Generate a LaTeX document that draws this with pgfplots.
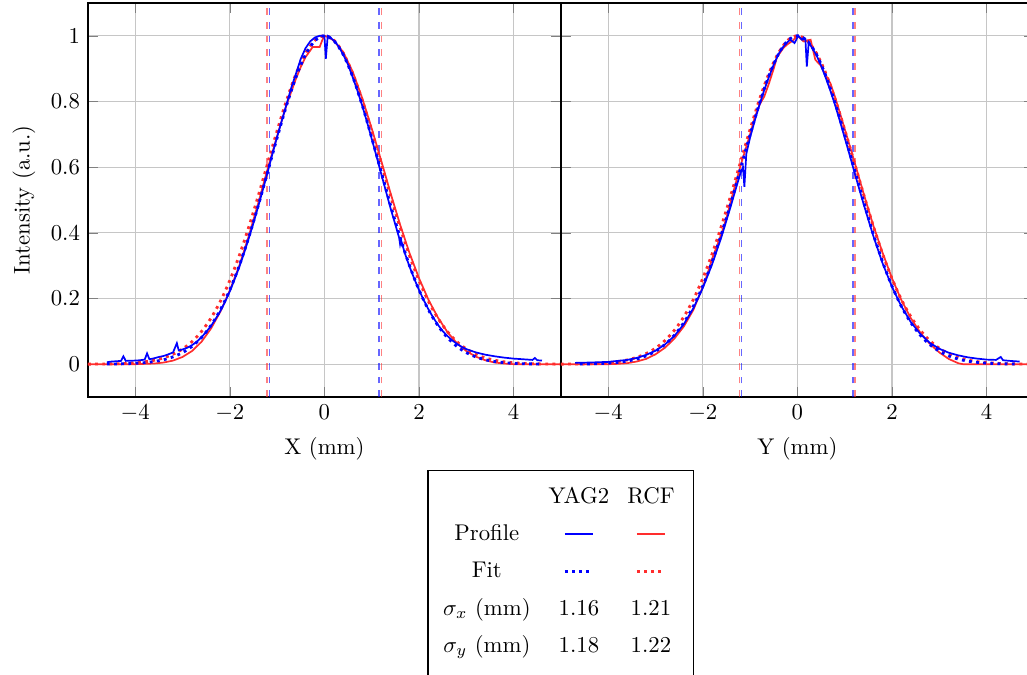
\documentclass[border=0pt]{standalone}
\usepackage{pgfplots}
\pgfplotsset{compat=1.18}
\usepackage{pgfplotstable}
\definecolor{myred}{RGB}{255,45,45}
\definecolor{myblue}{RGB}{0,0,255}

% ---------- data ----------
\pgfplotstableread{
x y
-4.6 0.006
-4.5 0.008
-4.4 0.009
-4.3 0.010
-4.25 0.024
-4.2 0.010
-4.0 0.011
-3.9 0.012
-3.8 0.014
-3.75 0.033
-3.7 0.015
-3.6 0.018
-3.5 0.022
-3.4 0.025
-3.3 0.030
-3.2 0.036
-3.12 0.064
-3.08 0.042
-3.0 0.045
-2.9 0.050
-2.8 0.058
-2.7 0.068
-2.6 0.082
-2.5 0.098
-2.4 0.116
-2.3 0.138
-2.2 0.162
-2.1 0.190
-2.0 0.222
-1.9 0.258
-1.8 0.296
-1.7 0.338
-1.6 0.383
-1.5 0.430
-1.4 0.480
-1.3 0.532
-1.2 0.585
-1.1 0.640
-1.0 0.692
-0.9 0.742
-0.8 0.792
-0.7 0.842
-0.6 0.885
-0.5 0.930
-0.4 0.962
-0.3 0.983
-0.2 0.995
-0.1 1.000
0.0 1.000
0.03 0.930
0.07 1.000
0.1 0.998
0.2 0.985
0.3 0.968
0.4 0.942
0.5 0.912
0.6 0.873
0.7 0.832
0.8 0.787
0.9 0.738
1.0 0.686
1.1 0.634
1.2 0.580
1.3 0.527
1.4 0.474
1.5 0.425
1.58 0.385
1.6 0.365
1.62 0.378
1.7 0.338
1.8 0.297
1.9 0.260
2.0 0.226
2.1 0.195
2.2 0.167
2.3 0.142
2.4 0.120
2.5 0.101
2.6 0.086
2.7 0.073
2.8 0.062
2.9 0.053
3.0 0.046
3.2 0.036
3.4 0.029
3.6 0.024
3.8 0.020
4.0 0.017
4.2 0.015
4.4 0.013
4.45 0.019
4.5 0.012
4.6 0.011
}\bxprof

\pgfplotstableread{
x y
-5.0 0.000
-4.0 0.000
-3.8 0.001
-3.6 0.002
-3.4 0.005
-3.2 0.011
-3.0 0.022
-2.8 0.040
-2.6 0.068
-2.4 0.108
-2.2 0.160
-2.0 0.225
-1.8 0.300
-1.6 0.390
-1.4 0.490
-1.2 0.595
-1.0 0.695
-0.8 0.790
-0.6 0.870
-0.5 0.905
-0.4 0.935
-0.3 0.955
-0.25 0.966
-0.1 0.966
-0.05 0.985
0.0 1.000
0.1 0.995
0.2 0.985
0.4 0.950
0.6 0.890
0.8 0.810
1.0 0.718
1.2 0.620
1.4 0.520
1.6 0.425
1.8 0.338
2.0 0.262
2.2 0.196
2.4 0.142
2.6 0.098
2.8 0.064
3.0 0.040
3.2 0.023
3.4 0.012
3.6 0.005
3.8 0.002
4.0 0.000
5.0 0.000
}\rxprof

\pgfplotstableread{
x y
-4.6 0.0004
-4.4 0.0008
-4.2 0.0014
-4.0 0.0026
-3.8 0.0047
-3.6 0.0081
-3.4 0.0136
-3.2 0.0223
-3.0 0.0353
-2.8 0.0543
-2.6 0.0811
-2.4 0.1176
-2.2 0.1656
-2.0 0.2262
-1.8 0.3000
-1.6 0.3862
-1.4 0.4828
-1.2 0.5856
-1.0 0.6897
-0.8 0.7884
-0.6 0.8748
-0.4 0.9423
-0.2 0.9852
0.0 1.0000
0.2 0.9852
0.4 0.9423
0.6 0.8748
0.8 0.7884
1.0 0.6897
1.2 0.5856
1.4 0.4828
1.6 0.3862
1.8 0.3000
2.0 0.2262
2.2 0.1656
2.4 0.1176
2.6 0.0811
2.8 0.0543
3.0 0.0353
3.2 0.0223
3.4 0.0136
3.6 0.0081
3.8 0.0047
4.0 0.0026
4.2 0.0014
4.4 0.0008
4.6 0.0004
}\bxfit

\pgfplotstableread{
x y
-5.0 0.0002
-4.8 0.0004
-4.6 0.0007
-4.4 0.0013
-4.2 0.0024
-4.0 0.0042
-3.8 0.0072
-3.6 0.0120
-3.4 0.0193
-3.2 0.0303
-3.0 0.0463
-2.8 0.0687
-2.6 0.0994
-2.4 0.1399
-2.2 0.1915
-2.0 0.2551
-1.8 0.3307
-1.6 0.4172
-1.4 0.5120
-1.2 0.6115
-1.0 0.7107
-0.8 0.8037
-0.6 0.8843
-0.4 0.9468
-0.2 0.9864
0.0 1.0000
0.2 0.9864
0.4 0.9468
0.6 0.8843
0.8 0.8037
1.0 0.7107
1.2 0.6115
1.4 0.5120
1.6 0.4172
1.8 0.3307
2.0 0.2551
2.2 0.1915
2.4 0.1399
2.6 0.0994
2.8 0.0687
3.0 0.0463
3.2 0.0303
3.4 0.0193
3.6 0.0120
3.8 0.0072
4.0 0.0042
4.2 0.0024
4.4 0.0013
4.6 0.0007
4.8 0.0004
5.0 0.0002
}\rxfit

\pgfplotstableread{
x y
-4.7 0.004
-4.4 0.005
-4.0 0.007
-3.8 0.010
-3.6 0.013
-3.4 0.019
-3.2 0.028
-3.0 0.041
-2.8 0.060
-2.6 0.086
-2.4 0.122
-2.2 0.170
-2.0 0.232
-1.8 0.305
-1.6 0.390
-1.4 0.485
-1.3 0.535
-1.2 0.583
-1.15 0.600
-1.12 0.540
-1.08 0.640
-1.0 0.690
-0.9 0.742
-0.8 0.790
-0.7 0.835
-0.6 0.875
-0.5 0.912
-0.4 0.944
-0.3 0.966
-0.2 0.982
-0.15 0.988
-0.06 0.978
0.02 1.000
0.1 0.988
0.17 0.990
0.2 0.906
0.24 0.980
0.3 0.966
0.4 0.942
0.5 0.910
0.6 0.872
0.7 0.832
0.8 0.788
0.9 0.740
1.0 0.690
1.1 0.640
1.2 0.588
1.4 0.488
1.6 0.393
1.8 0.308
2.0 0.236
2.2 0.176
2.4 0.128
2.6 0.092
2.8 0.065
3.0 0.047
3.2 0.035
3.4 0.027
3.6 0.021
3.8 0.017
4.0 0.014
4.2 0.013
4.3 0.022
4.35 0.012
4.5 0.010
4.7 0.008
}\byprof

\pgfplotstableread{
x y
-5.0 0.000
-4.0 0.000
-3.8 0.001
-3.6 0.003
-3.4 0.008
-3.2 0.016
-3.0 0.030
-2.8 0.050
-2.6 0.078
-2.4 0.115
-2.2 0.165
-2.0 0.235
-1.9 0.275
-1.8 0.322
-1.7 0.360
-1.6 0.400
-1.5 0.445
-1.4 0.500
-1.2 0.605
-1.0 0.700
-0.9 0.752
-0.8 0.790
-0.7 0.815
-0.6 0.855
-0.5 0.900
-0.43 0.935
-0.3 0.962
-0.22 0.973
-0.1 0.985
0.0 1.000
0.13 0.983
0.28 0.988
0.38 0.927
0.49 0.910
0.6 0.880
0.7 0.855
0.8 0.812
0.9 0.765
1.0 0.717
1.2 0.620
1.4 0.520
1.6 0.425
1.8 0.340
2.0 0.262
2.2 0.195
2.4 0.140
2.6 0.096
2.8 0.062
3.0 0.036
3.2 0.016
3.4 0.003
3.5 0.000
5.0 0.000
}\ryprof

\pgfplotstableread{
x y
-4.6 0.0005
-4.4 0.0010
-4.2 0.0018
-4.0 0.0032
-3.8 0.0056
-3.6 0.0095
-3.4 0.0157
-3.2 0.0253
-3.0 0.0395
-2.8 0.0599
-2.6 0.0883
-2.4 0.1264
-2.2 0.1759
-2.0 0.2378
-1.8 0.3124
-1.6 0.3988
-1.4 0.4947
-1.2 0.5963
-1.0 0.6983
-0.8 0.7947
-0.6 0.8787
-0.4 0.9442
-0.2 0.9857
0.0 1.0000
0.2 0.9857
0.4 0.9442
0.6 0.8787
0.8 0.7947
1.0 0.6983
1.2 0.5963
1.4 0.4947
1.6 0.3988
1.8 0.3124
2.0 0.2378
2.2 0.1759
2.4 0.1264
2.6 0.0883
2.8 0.0599
3.0 0.0395
3.2 0.0253
3.4 0.0157
3.6 0.0095
3.8 0.0056
4.0 0.0032
4.2 0.0018
4.4 0.0010
4.6 0.0005
}\byfit

\pgfplotstableread{
x y
-5.0 0.0002
-4.8 0.0004
-4.6 0.0008
-4.4 0.0015
-4.2 0.0027
-4.0 0.0046
-3.8 0.0078
-3.6 0.0129
-3.4 0.0206
-3.2 0.0321
-3.0 0.0486
-2.8 0.0718
-2.6 0.1032
-2.4 0.1444
-2.2 0.1967
-2.0 0.2609
-1.8 0.3367
-1.6 0.4232
-1.4 0.5177
-1.2 0.6165
-1.0 0.7147
-0.8 0.8065
-0.6 0.8861
-0.4 0.9477
-0.2 0.9867
0.0 1.0000
0.2 0.9867
0.4 0.9477
0.6 0.8861
0.8 0.8065
1.0 0.7147
1.2 0.6165
1.4 0.5177
1.6 0.4232
1.8 0.3367
2.0 0.2609
2.2 0.1967
2.4 0.1444
2.6 0.1032
2.8 0.0718
3.0 0.0486
3.2 0.0321
3.4 0.0206
3.6 0.0129
3.8 0.0078
4.0 0.0046
4.2 0.0027
4.4 0.0015
4.6 0.0008
4.8 0.0004
5.0 0.0002
}\ryfit

\pgfplotsset{
  panel/.style={
    width=208.1pt, height=173.4pt, scale only axis,
    xmin=-5, xmax=5, ymin=-0.1, ymax=1.1,
    xtick={-4,-2,0,2,4},
    ytick={0,0.2,0.4,0.6,0.8,1},
    grid=major,
    major grid style={gray!45, line width=0.5pt},
    axis line style={black, line width=0.6pt},
    anchor=south west,
  },
  prof/.style={line width=0.75pt},
  fitl/.style={line width=1.25pt, dash pattern=on 1.25pt off 1.9pt, smooth},
  sig/.style={line width=0.7pt, dashed, opacity=0.6},
}

\begin{document}
\begin{tikzpicture}
\begin{axis}[panel, at={(0pt,0pt)},
  xlabel={X (mm)}, ylabel={Intensity (a.u.)}]
  \addplot[sig, myblue] coordinates {(-1.16,-0.1) (-1.16,1.1)};
  \addplot[sig, myred] coordinates {(-1.21,-0.1) (-1.21,1.1)};
  \addplot[sig, myblue] coordinates {(1.16,-0.1) (1.16,1.1)};
  \addplot[sig, myred] coordinates {(1.21,-0.1) (1.21,1.1)};
  \addplot[prof, myred] table {\rxprof};
  \addplot[fitl, myred] table {\rxfit};
  \addplot[prof, myblue] table {\bxprof};
  \addplot[fitl, myblue] table {\bxfit};
\end{axis}
\begin{axis}[panel, at={(208.1pt,0pt)},
  xlabel={Y (mm)}, yticklabels={}]
  \addplot[sig, myblue] coordinates {(-1.18,-0.1) (-1.18,1.1)};
  \addplot[sig, myred] coordinates {(-1.22,-0.1) (-1.22,1.1)};
  \addplot[sig, myblue] coordinates {(1.18,-0.1) (1.18,1.1)};
  \addplot[sig, myred] coordinates {(1.22,-0.1) (1.22,1.1)};
  \addplot[prof, myred] table {\ryprof};
  \addplot[fitl, myred] table {\ryfit};
  \addplot[prof, myblue] table {\byprof};
  \addplot[fitl, myblue] table {\byfit};
\end{axis}
\node[draw, line width=0.6pt, anchor=north, inner sep=3pt, fill=white] at (208.1pt,-32.1pt) {%
  \renewcommand{\arraystretch}{1.365}%
  \begin{tabular}{@{\hspace{3.6pt}}c@{\hspace{7.9pt}}c@{\hspace{7.9pt}}c@{\hspace{5.4pt}}}
    & YAG2 & RCF\\
    Profile & \tikz[baseline=-3pt]\draw[myblue, line width=0.75pt] (0,0)--(12.3pt,0); & \tikz[baseline=-3pt]\draw[myred, line width=0.75pt] (0,0)--(12.3pt,0);\\
    Fit & \tikz[baseline=-3pt]\draw[myblue, line width=1.25pt, dash pattern=on 1.25pt off 1.9pt] (0,0)--(12.3pt,0); & \tikz[baseline=-3pt]\draw[myred, line width=1.25pt, dash pattern=on 1.25pt off 1.9pt] (0,0)--(12.3pt,0);\\
    $\sigma_x$ (mm) & 1.16 & 1.21\\
    $\sigma_y$ (mm) & 1.18 & 1.22\\[8pt]
  \end{tabular}};
\pgfresetboundingbox
\path[use as bounding box] (-38.7pt,-121.9pt) rectangle (413.2pt,174.7pt);
\end{tikzpicture}
\end{document}
